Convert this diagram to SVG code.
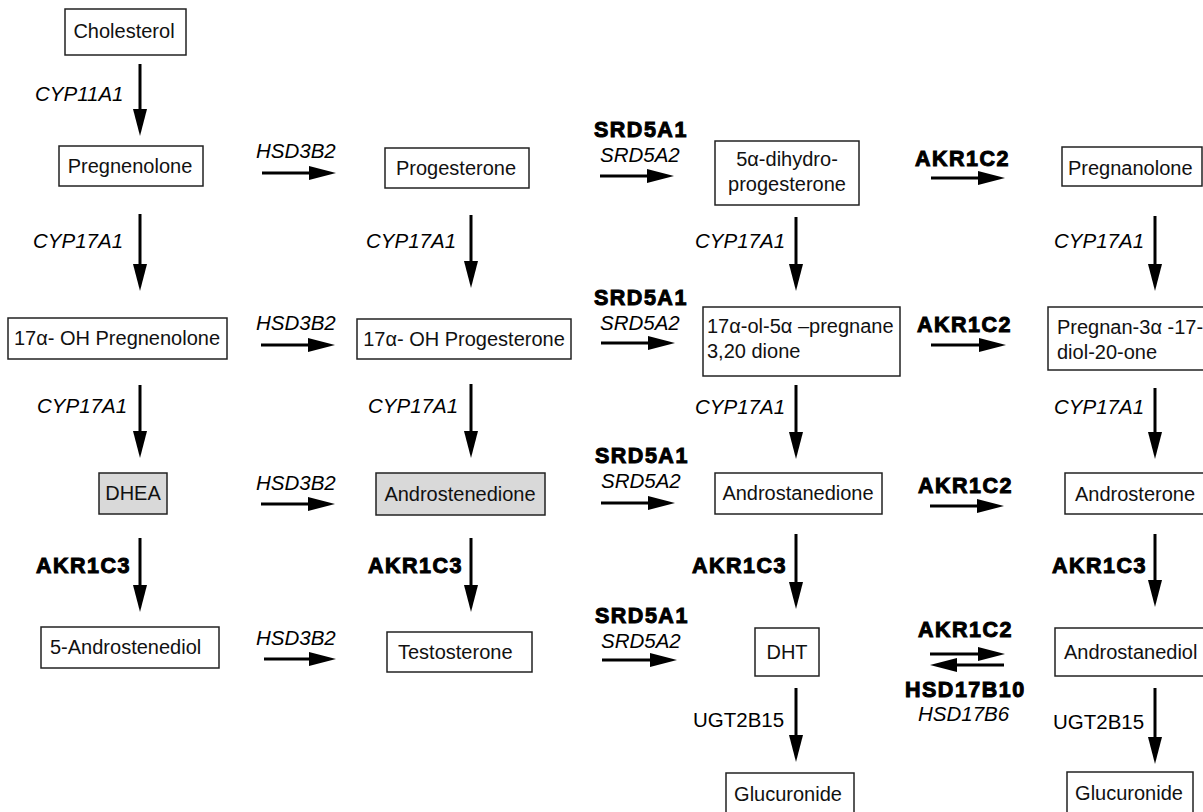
<svg xmlns="http://www.w3.org/2000/svg" width="1203" height="812" viewBox="0 0 1203 812">
<defs>
<marker id="ah" markerUnits="userSpaceOnUse" markerWidth="28" markerHeight="14" refX="8" refY="7" orient="auto">
<path d="M0,0 L27,7 L0,14 z" fill="#000"/>
</marker>
<style>
.box{fill:#fff;stroke:#222;stroke-width:1.5}
.gray{fill:#d9d9d9}
.nt{font-family:"Liberation Sans",Arial,sans-serif;font-size:20px;fill:#111}
.c{text-anchor:middle}
.it{font-family:"Liberation Sans",Arial,sans-serif;font-size:20.5px;font-style:italic;fill:#000}
.rg{font-family:"Liberation Sans",Arial,sans-serif;font-size:20.5px;fill:#000}
.bd{font-family:"Liberation Sans",Arial,sans-serif;font-size:21.5px;font-weight:bold;fill:#000;stroke:#000;stroke-width:1;letter-spacing:1.5px}
.ar{stroke:#000;stroke-width:3;fill:none;marker-end:url(#ah)}
</style>
</defs>
<rect width="1203" height="812" fill="#fff"/>

<g id="connectors">
<line class="ar" x1="140" y1="64" x2="140" y2="117"/>
<line class="ar" x1="140" y1="214" x2="140" y2="272"/>
<line class="ar" x1="140" y1="385" x2="140" y2="439"/>
<line class="ar" x1="140" y1="538" x2="140" y2="593"/>
<line class="ar" x1="471" y1="215" x2="471" y2="269"/>
<line class="ar" x1="471" y1="384" x2="471" y2="439"/>
<line class="ar" x1="471" y1="538" x2="471" y2="593"/>
<line class="ar" x1="796" y1="217" x2="796" y2="272"/>
<line class="ar" x1="796" y1="385" x2="796" y2="440"/>
<line class="ar" x1="796" y1="534" x2="796" y2="590"/>
<line class="ar" x1="796" y1="688" x2="796" y2="743"/>
<line class="ar" x1="1155" y1="216" x2="1155" y2="272"/>
<line class="ar" x1="1155" y1="388" x2="1155" y2="440"/>
<line class="ar" x1="1155" y1="534" x2="1155" y2="588"/>
<line class="ar" x1="1155" y1="688" x2="1155" y2="745"/>
<line class="ar" x1="262" y1="173" x2="317" y2="173"/>
<line class="ar" x1="261" y1="345" x2="316" y2="345"/>
<line class="ar" x1="261" y1="504" x2="316" y2="504"/>
<line class="ar" x1="264" y1="659" x2="317" y2="659"/>
<line class="ar" x1="600" y1="176" x2="655" y2="176"/>
<line class="ar" x1="601" y1="343" x2="656" y2="343"/>
<line class="ar" x1="601" y1="503" x2="656" y2="503"/>
<line class="ar" x1="602" y1="660" x2="658" y2="660"/>
<line class="ar" x1="931" y1="178" x2="986" y2="178"/>
<line class="ar" x1="931" y1="345" x2="987" y2="345"/>
<line class="ar" x1="930" y1="506" x2="985" y2="506"/>
<line class="ar" x1="930" y1="654" x2="986" y2="654"/>
<line class="ar" x1="1004" y1="665" x2="949" y2="665"/>
</g>

<g id="labels">
<text class="it" x="35" y="101">CYP11A1</text>
<text class="it" x="33" y="248">CYP17A1</text>
<text class="it" x="37" y="413">CYP17A1</text>
<text class="bd" x="36" y="573">AKR1C3</text>
<text class="it" x="366" y="248">CYP17A1</text>
<text class="it" x="368" y="413">CYP17A1</text>
<text class="bd" x="368" y="573">AKR1C3</text>
<text class="it" x="256" y="158">HSD3B2</text>
<text class="it" x="256" y="330">HSD3B2</text>
<text class="it" x="256" y="490">HSD3B2</text>
<text class="it" x="256" y="645">HSD3B2</text>
<text class="bd" x="594" y="137">SRD5A1</text>
<text class="it" x="600" y="162">SRD5A2</text>
<text class="bd" x="594" y="305">SRD5A1</text>
<text class="it" x="600" y="330">SRD5A2</text>
<text class="bd" x="595" y="463">SRD5A1</text>
<text class="it" x="601" y="488">SRD5A2</text>
<text class="bd" x="595" y="623">SRD5A1</text>
<text class="it" x="601" y="648">SRD5A2</text>
<text class="it" x="695" y="248">CYP17A1</text>
<text class="it" x="695" y="414">CYP17A1</text>
<text class="bd" x="692" y="573">AKR1C3</text>
<text class="rg" x="693" y="727">UGT2B15</text>
<text class="bd" x="915" y="166">AKR1C2</text>
<text class="bd" x="917" y="332">AKR1C2</text>
<text class="bd" x="918" y="493">AKR1C2</text>
<text class="bd" x="918" y="637">AKR1C2</text>
<text class="bd" x="905" y="697">HSD17B10</text>
<text class="it" x="918" y="721">HSD17B6</text>
<text class="it" x="1054" y="248">CYP17A1</text>
<text class="it" x="1054" y="414">CYP17A1</text>
<text class="bd" x="1052" y="573">AKR1C3</text>
<text class="rg" x="1053" y="729">UGT2B15</text>
</g>

<g id="n-cholesterol"><rect class="box" x="65" y="9" width="121" height="46"/><text class="nt c" x="124" y="38">Cholesterol</text></g>
<g id="n-pregnenolone"><rect class="box" x="59" y="146" width="144" height="40"/><text class="nt c" x="130" y="173">Pregnenolone</text></g>
<g id="n-progesterone"><rect class="box" x="385" y="148" width="144" height="40"/><text class="nt c" x="456" y="175">Progesterone</text></g>
<g id="n-dhp"><rect class="box" x="715" y="141" width="144" height="64"/><text class="nt c" x="787" y="166">5α-dihydro-</text><text class="nt c" x="787" y="191">progesterone</text></g>
<g id="n-pregnanolone"><rect class="box" x="1062" y="147" width="140" height="39"/><text class="nt" x="1068" y="175">Pregnanolone</text></g>
<g id="n-17oh-preg"><rect class="box" x="8" y="318" width="219" height="41"/><text class="nt c" x="117" y="345">17α- OH Pregnenolone</text></g>
<g id="n-17oh-prog"><rect class="box" x="357" y="319" width="214" height="40"/><text class="nt c" x="464" y="346">17α- OH Progesterone</text></g>
<g id="n-17ol"><rect class="box" x="703" y="307" width="197" height="69"/><text class="nt" x="707" y="333">17α-ol-5α –pregnane</text><text class="nt" x="707" y="358">3,20 dione</text></g>
<g id="n-pregnan"><rect class="box" x="1048" y="307" width="160" height="63"/><text class="nt" x="1057" y="334">Pregnan-3α -17-</text><text class="nt" x="1057" y="359">diol-20-one</text></g>
<g id="n-dhea"><rect class="box gray" x="99" y="473" width="68" height="41"/><text class="nt c" x="133" y="500">DHEA</text></g>
<g id="n-androstenedione"><rect class="box gray" x="376" y="473" width="169" height="42"/><text class="nt c" x="460" y="501">Androstenedione</text></g>
<g id="n-androstanedione"><rect class="box" x="715" y="473" width="167" height="41"/><text class="nt c" x="798" y="500">Androstanedione</text></g>
<g id="n-androsterone"><rect class="box" x="1065" y="473" width="143" height="41"/><text class="nt" x="1075" y="501">Androsterone</text></g>
<g id="n-5adiol"><rect class="box" x="41" y="627" width="178" height="41"/><text class="nt" x="50" y="654">5-Androstenediol</text></g>
<g id="n-testosterone"><rect class="box" x="387" y="632" width="145" height="40"/><text class="nt" x="398" y="659">Testosterone</text></g>
<g id="n-dht"><rect class="box" x="755" y="628" width="64" height="48"/><text class="nt c" x="787" y="659">DHT</text></g>
<g id="n-androstanediol"><rect class="box" x="1055" y="628" width="153" height="48"/><text class="nt" x="1064" y="659">Androstanediol</text></g>
<g id="n-gluc1"><rect class="box" x="726" y="773" width="128" height="45"/><text class="nt c" x="788" y="801">Glucuronide</text></g>
<g id="n-gluc2"><rect class="box" x="1067" y="772" width="126" height="45"/><text class="nt c" x="1129" y="800">Glucuronide</text></g>
</svg>
